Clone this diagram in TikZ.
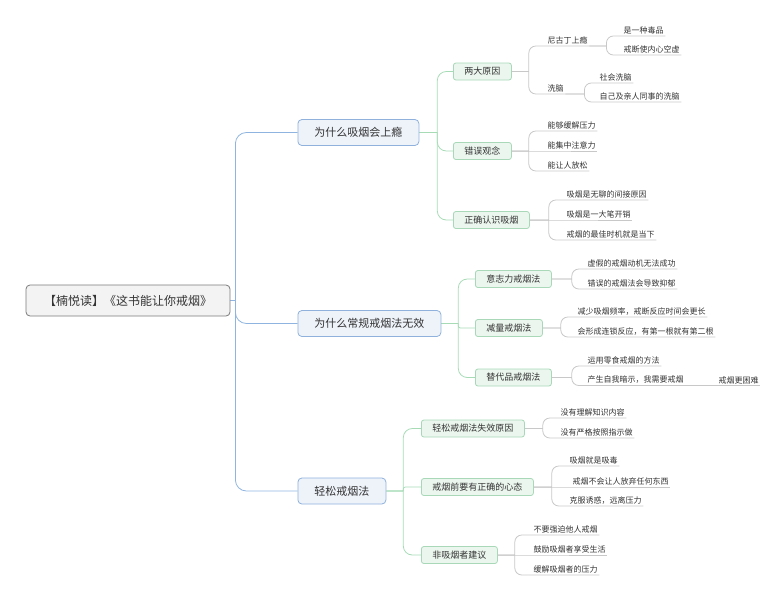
\documentclass[tikz,border=0pt]{standalone}
\usepackage{fontspec}
\newfontfamily\cjk{Noto Sans CJK SC}
\usepackage{tikz}
\pgfdeclarelayer{bg}
\pgfsetlayers{bg,main}
\definecolor{txt}{HTML}{333333}
\definecolor{rootfill}{HTML}{F3F3F3}
\definecolor{rootdraw}{HTML}{7B7B7B}
\definecolor{mainfill}{HTML}{EEF3FA}
\definecolor{maindraw}{HTML}{8FB1DC}
\definecolor{subfill}{HTML}{EBF6EE}
\definecolor{subdraw}{HTML}{A8D8B8}
\definecolor{trunk}{HTML}{8FB4E0}
\definecolor{branch}{HTML}{A6DBB6}
\definecolor{twig}{HTML}{C8C8C8}

\begin{document}
\begin{tikzpicture}[x=1pt, y=-1pt,
        rootnode/.style={draw=rootdraw, fill=rootfill, rounded corners=4pt, line width=0.8pt, text=txt,
                font=\cjk\fontsize{12}{14}\selectfont, inner xsep=18pt, minimum height=31pt},
        mainnode/.style={draw=maindraw, fill=mainfill, rounded corners=4pt, line width=0.8pt, text=txt,
                font=\cjk\fontsize{11}{13}\selectfont, inner xsep=16.5pt, minimum height=26pt, anchor=west},
        subnode/.style={draw=subdraw, fill=subfill, rounded corners=2.5pt, line width=0.8pt, text=txt,
                font=\cjk\fontsize{9}{11}\selectfont, inner xsep=11pt, minimum height=17pt, anchor=west},
        leafnode/.style={text=txt, font=\cjk\fontsize{8}{10}\selectfont, inner xsep=1.5pt, inner ysep=1.5pt, anchor=south west},
        elbow/.style={to path={(\tikztostart.east) -- ++(#1,0) ++(0,0) |- (\tikztotarget.west)}},
        leaf/.style={twig, rounded corners=7pt,
                to path={(\tikztostart.east) -- ++(#1,0) ++(0,0) |- (\tikztotarget.south west) -- (\tikztotarget.south east)}},
        subleaf/.style={twig, rounded corners=7pt,
                to path={(\tikztostart.south east) -- ++(#1,0) ++(0,0) |- (\tikztotarget.south west) -- (\tikztotarget.south east)}},
        flat/.style={twig, to path={(\tikztostart.#1) -- (\tikztotarget.south west) -- (\tikztotarget.south east)}}]
        \useasboundingbox (0,0) rectangle (784,600);
        \node (v0) [rootnode] at (128, 300.5) {【楠悦读】《这书能让你戒烟》};
        \node (v1) [mainnode] at (297.5, 132.5) {为什么吸烟会上瘾};
        \node (v2) [mainnode] at (297.5, 323.5) {为什么常规戒烟法无效};
        \node (v3) [mainnode] at (297.5, 491) {轻松戒烟法};
        \node (v4) [subnode] at (453, 71.5) {两大原因};
        \node (v5) [subnode] at (453, 151) {错误观念};
        \node (v6) [subnode] at (453, 220) {正确认识吸烟};
        \node (v7) [subnode] at (475, 279) {意志力戒烟法};
        \node (v8) [subnode] at (475, 328) {减量戒烟法};
        \node (v9) [subnode] at (475, 377.5) {替代品戒烟法};
        \node (v10) [subnode] at (421, 428.5) {轻松戒烟法失效原因};
        \node (v11) [subnode] at (421, 487) {戒烟前要有正确的心态};
        \node (v12) [subnode] at (421, 555) {非吸烟者建议};
        \node (v13) [leafnode] at (546, 46) {尼古丁上瘾};
        \node (v14) [leafnode] at (546, 94) {洗脑};
        \node (v15) [leafnode] at (622, 36) {是一种毒品};
        \node (v16) [leafnode] at (622, 55) {戒断使内心空虚};
        \node (v17) [leafnode] at (598, 83) {社会洗脑};
        \node (v18) [leafnode] at (598, 102) {自己及亲人同事的洗脑};
        \node (v19) [leafnode] at (546, 131) {能够缓解压力};
        \node (v20) [leafnode] at (546, 151) {能集中注意力};
        \node (v21) [leafnode] at (546, 171) {能让人放松};
        \node (v22) [leafnode] at (565, 200) {吸烟是无聊的间接原因};
        \node (v23) [leafnode] at (565, 220) {吸烟是一大笔开销};
        \node (v24) [leafnode] at (565, 240) {戒烟的最佳时机就是当下};
        \node (v25) [leafnode] at (586, 269) {虚假的戒烟动机无法成功};
        \node (v26) [leafnode] at (586, 289) {错误的戒烟法会导致抑郁};
        \node (v27) [leafnode] at (576, 317) {减少吸烟频率，戒断反应时间会更长};
        \node (v28) [leafnode] at (576, 337) {会形成连锁反应，有第一根就有第二根};
        \node (v29) [leafnode] at (586, 366) {运用零食戒烟的方法};
        \node (v30) [leafnode] at (586, 385.5) {产生自我暗示，我需要戒烟};
        \node (v31) [leafnode] at (717, 385.5) {戒烟更困难};
        \node (v32) [leafnode] at (559, 418) {没有理解知识内容};
        \node (v33) [leafnode] at (559, 438) {没有严格按照指示做};
        \node (v34) [leafnode] at (568, 466) {吸烟就是吸毒};
        \node (v35) [leafnode] at (571, 487) {戒烟不会让人放弃任何东西};
        \node (v36) [leafnode] at (568, 506) {克服诱惑，远离压力};
        \node (v37) [leafnode] at (532, 535) {不要强迫他人戒烟};
        \node (v38) [leafnode] at (532, 555) {鼓励吸烟者享受生活};
        \node (v39) [leafnode] at (532, 575) {缓解吸烟者的压力};
        \begin{pgfonlayer}{bg}
                \draw [trunk, line width=0.8pt, rounded corners=11pt] (v0) edge [elbow=5] (v1);
                \draw [trunk, line width=0.8pt, rounded corners=11pt] (v0) edge [elbow=5] (v2);
                \draw [trunk, line width=0.8pt, rounded corners=11pt] (v0) edge [elbow=5] (v3);
                \draw [branch, line width=0.8pt, rounded corners=9pt] (v1) edge [elbow=18] (v4);
                \draw [branch, line width=0.8pt, rounded corners=9pt] (v1) edge [elbow=18] (v5);
                \draw [branch, line width=0.8pt, rounded corners=9pt] (v1) edge [elbow=18] (v6);
                \draw [branch, line width=0.8pt, rounded corners=9pt] (v2) edge [elbow=17] (v7);
                \draw [branch, line width=0.8pt, rounded corners=2pt] (v2) edge [elbow=17] (v8);
                \draw [branch, line width=0.8pt, rounded corners=9pt] (v2) edge [elbow=17] (v9);
                \draw [branch, line width=0.8pt, rounded corners=9pt] (v3) edge [elbow=17] (v10);
                \draw [branch, line width=0.8pt, rounded corners=2pt] (v3) edge [elbow=17] (v11);
                \draw [branch, line width=0.8pt, rounded corners=9pt] (v3) edge [elbow=17] (v12);
                \draw [line width=0.8pt] (v4) edge [leaf=17] (v13);
                \draw [line width=0.8pt] (v4) edge [leaf=17] (v14);
                \draw [line width=0.8pt] (v13) edge [subleaf=17] (v15);
                \draw [line width=0.8pt] (v13) edge [subleaf=17] (v16);
                \draw [line width=0.8pt] (v14) edge [subleaf=19] (v17);
                \draw [line width=0.8pt] (v14) edge [subleaf=19] (v18);
                \draw [line width=0.8pt] (v5) edge [leaf=17] (v19);
                \draw [line width=0.8pt] (v5) edge [flat=east] (v20);
                \draw [line width=0.8pt] (v5) edge [leaf=17] (v21);
                \draw [line width=0.8pt] (v6) edge [leaf=19] (v22);
                \draw [line width=0.8pt] (v6) edge [flat=east] (v23);
                \draw [line width=0.8pt] (v6) edge [leaf=19] (v24);
                \draw [line width=0.8pt] (v7) edge [leaf=20] (v25);
                \draw [line width=0.8pt] (v7) edge [leaf=20] (v26);
                \draw [line width=0.8pt] (v8) edge [leaf=18] (v27);
                \draw [line width=0.8pt] (v8) edge [leaf=18] (v28);
                \draw [line width=0.8pt] (v9) edge [leaf=20] (v29);
                \draw [line width=0.8pt] (v9) edge [leaf=20] (v30);
                \draw [line width=0.8pt] (v30) edge [flat=south east] (v31);
                \draw [line width=0.8pt] (v10) edge [leaf=18] (v32);
                \draw [line width=0.8pt] (v10) edge [leaf=18] (v33);
                \draw [line width=0.8pt] (v11) edge [leaf=18] (v34);
                \draw [line width=0.8pt] (v11) edge [flat=east] (v35);
                \draw [line width=0.8pt] (v11) edge [leaf=18] (v36);
                \draw [line width=0.8pt] (v12) edge [leaf=17] (v37);
                \draw [line width=0.8pt] (v12) edge [flat=east] (v38);
                \draw [line width=0.8pt] (v12) edge [leaf=17] (v39);
        \end{pgfonlayer}
\end{tikzpicture}
\end{document}
